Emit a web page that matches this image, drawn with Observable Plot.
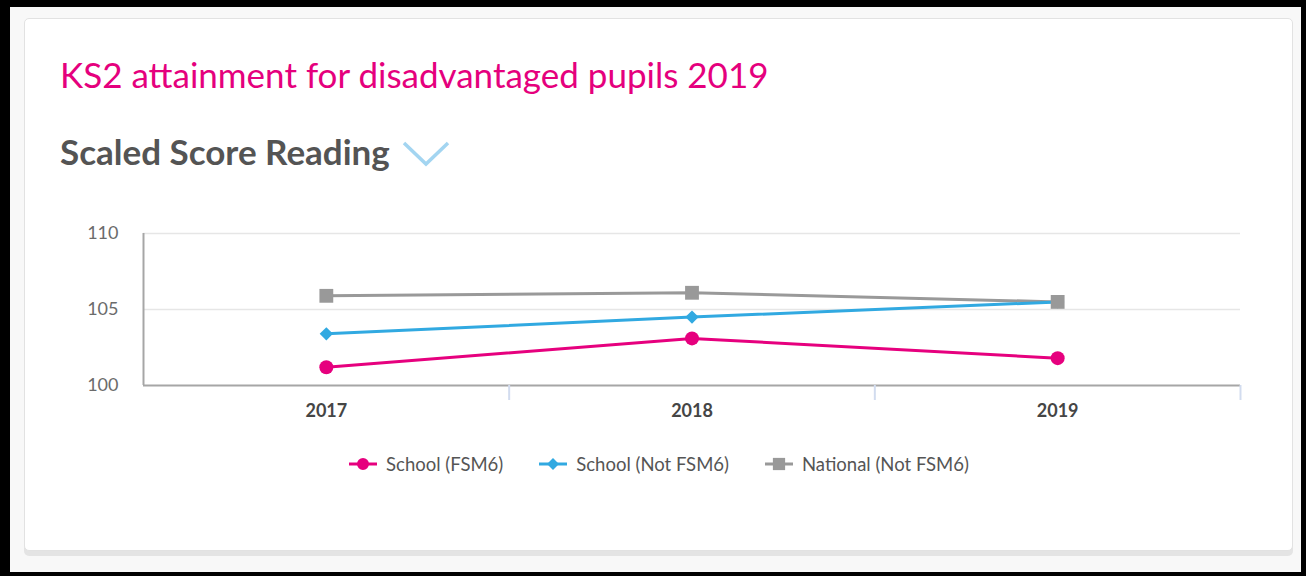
<!DOCTYPE html>
<html>
<head>
<meta charset="utf-8">
<script src="https://cdn.jsdelivr.net/npm/d3@7"></script>
<script src="https://cdn.jsdelivr.net/npm/@observablehq/plot@0.6"></script>
<style>
  html, body { margin: 0; padding: 0; width: 1306px; height: 576px; overflow: hidden; background: #000; font-family: Lato, "Open Sans", sans-serif; }
  #outer { position: absolute; left: 10px; top: 7px; width: 1291px; height: 565px; background: #f8f8f8; }
  #card { position: absolute; left: 24px; top: 18px; width: 1267px; height: 531px; background: #fff; border: 1px solid #e2e2e2; border-radius: 5px; box-shadow: 0 5px 0 #e4e4e4; }
  #title { position: absolute; left: 60px; top: 57px; font-size: 35px; line-height: 35px; color: #e5007d; white-space: nowrap; }
  #subtitle { position: absolute; left: 60px; top: 134px; font-size: 35px; line-height: 35px; font-weight: 700; color: #545454; white-space: nowrap; }
  #chev { position: absolute; left: 400px; top: 138px; }
  #chart { position: absolute; left: 0; top: 215px; }
  #legend { position: absolute; left: 24px; width: 1269px; top: 453px; display: flex; justify-content: center; gap: 35px; font-size: 18.5px; color: #555; }
  .item { display: flex; align-items: center; gap: 8px; }
</style>
</head>
<body>
<div id="outer"></div>
<div id="card"></div>
<div id="title">KS2 attainment for disadvantaged pupils 2019</div>
<div id="subtitle">Scaled Score Reading</div>
<svg id="chev" width="54" height="30"><polyline points="4,5 26,26 48,5" fill="none" stroke="#a3d5f1" stroke-width="3.5"/></svg>
<div id="chart"></div>
<div id="legend"></div>
<script>
const years = ["2017", "2018", "2019"];
const seriesNames = ["School (FSM6)", "School (Not FSM6)", "National (Not FSM6)"];
const fsm6 = [101.2, 103.1, 101.8];
const notFsm6 = [103.4, 104.5, 105.5];
const national = [105.9, 106.1, 105.5];
const yTicks = [100, 105, 110];

const colors = ["#e6007e", "#31a9e1", "#999999"];
const symbols = ["circle", "diamond2", "square"];
const radii = [7, 6, 7.8];

const valuesBySeries = [fsm6, notFsm6, national];
const rows = [];
valuesBySeries.forEach((vals, s) => vals.forEach((v, i) => rows.push({series: seriesNames[s], s, i, year: years[i], value: v})));

const xDomain = [-0.5, years.length - 0.5];
const boundaries = years.map((_, i) => i + 0.5);

const lineOrder = [2, 1, 0];
const dotOrder = [0, 1, 2];

const marks = [
  Plot.ruleY(yTicks.filter(t => t > yTicks[0]), {stroke: "#e6e6e6", strokeWidth: 1.5}),
  Plot.ruleX([xDomain[0]], {stroke: "#a6a6a6", strokeWidth: 2}),
  Plot.ruleY([yTicks[0]], {stroke: "#a6a6a6", strokeWidth: 2}),
  Plot.axisY({ticks: yTicks, tickSize: 0, tickPadding: 25, fontSize: 18, color: "#6b6b6b", label: null}),
  Plot.axisX({ticks: boundaries, tickSize: 15, tickFormat: () => "", stroke: "#d2dcef", strokeWidth: 2, label: null}),
  Plot.axisX({ticks: years.map((_, i) => i), tickSize: 0, tickPadding: 19, tickFormat: i => years[i], fontSize: 18, fontWeight: "bold", color: "#454545", label: null}),
];
for (const s of lineOrder) {
  marks.push(Plot.line(rows.filter(d => d.s === s), {x: "i", y: "value", stroke: colors[s], strokeWidth: 3}));
}
for (const s of dotOrder) {
  marks.push(Plot.dot(rows.filter(d => d.s === s), {x: "i", y: "value", fill: colors[s], symbol: symbols[s], r: radii[s], stroke: "none"}));
}

const chart = Plot.plot({
  width: 1306,
  height: 210,
  marginTop: 18,
  marginBottom: 40,
  marginLeft: 143,
  marginRight: 66,
  x: {domain: xDomain, axis: null},
  y: {domain: [yTicks[0], yTicks[yTicks.length - 1]], axis: null},
  style: {background: "transparent", fontFamily: "Lato, 'Open Sans', sans-serif", overflow: "visible"},
  marks
});
document.getElementById("chart").appendChild(chart);

// legend
const legend = document.getElementById("legend");
seriesNames.forEach((name, s) => {
  const item = document.createElement("div");
  item.className = "item";
  const sw = d3.create("svg").attr("width", 30).attr("height", 16);
  sw.append("line").attr("x1", 1).attr("x2", 29).attr("y1", 8).attr("y2", 8).attr("stroke", colors[s]).attr("stroke-width", 3);
  const sym = d3.symbol(s === 0 ? d3.symbolCircle : s === 1 ? d3.symbolDiamond2 : d3.symbolSquare, [113, 90, 150][s]);
  sw.append("path").attr("d", sym()).attr("transform", "translate(15,8)").attr("fill", colors[s]);
  item.appendChild(sw.node());
  const label = document.createElement("span");
  label.textContent = name;
  item.appendChild(label);
  legend.appendChild(item);
});
</script>
</body>
</html>
